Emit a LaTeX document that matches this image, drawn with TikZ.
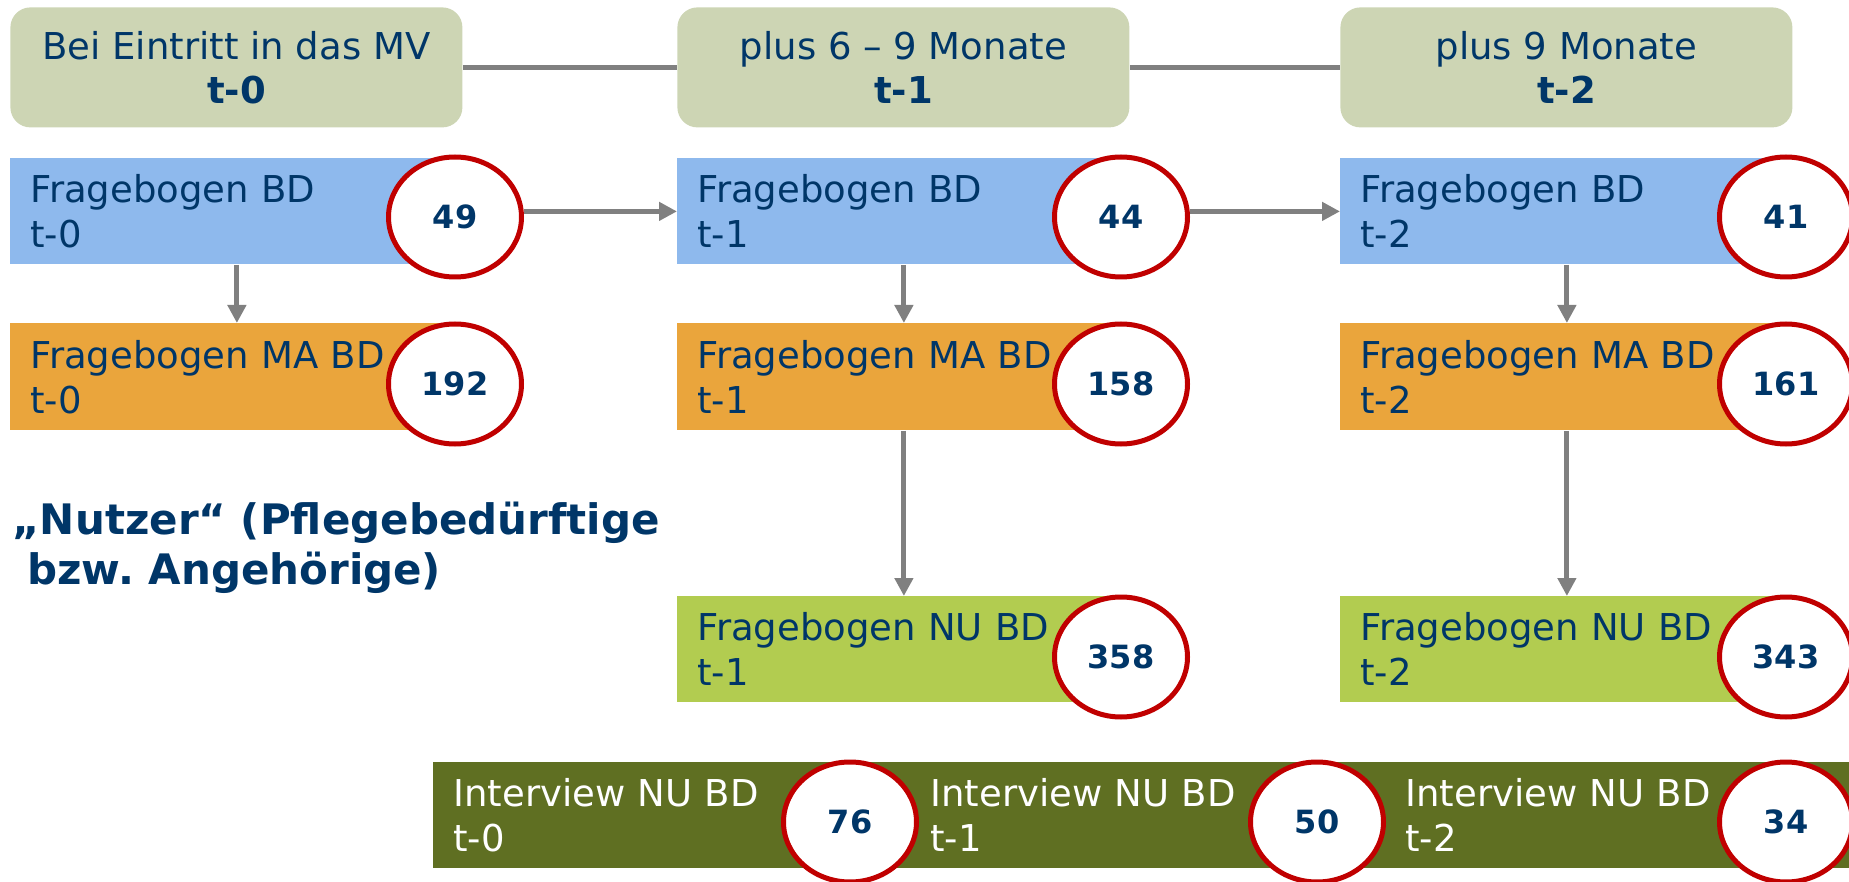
\documentclass[tikz,border=0pt]{standalone}
\usepackage{fontspec}
\setmainfont{DejaVu Sans}
\usetikzlibrary{arrows.meta,shapes.geometric,backgrounds}
\definecolor{navy}{RGB}{0,54,104}
\definecolor{hdrc}{RGB}{205,213,180}
\definecolor{bluec}{RGB}{142,185,237}
\definecolor{orangec}{RGB}{234,165,60}
\definecolor{greenc}{RGB}{178,204,80}
\definecolor{olivec}{RGB}{95,111,34}
\definecolor{redc}{RGB}{192,0,0}
\definecolor{grayc}{RGB}{128,128,128}
\frenchspacing
\begin{document}
\begin{tikzpicture}[x=0.5pt,y=-0.5pt,
  hdr/.style={fill=hdrc, rounded corners=10pt, minimum width=226pt, minimum height=60pt,
    anchor=north west, inner sep=0pt, align=center, text=navy,
    font=\fontsize{18.5}{22}\selectfont},
  boxbase/.style={anchor=north west, minimum height=53pt, inner xsep=10pt, inner ysep=0pt,
    align=left, text=navy, font=\fontsize{18.5}{22.5}\selectfont},
  colbox/.style={boxbase, text width=206.5pt},
  bluebox/.style={colbox, fill=bluec},
  orangebox/.style={colbox, fill=orangec},
  greenbox/.style={colbox, fill=greenc},
  intbox/.style={boxbase, fill=olivec, text=white},
  circ/.style={ellipse, draw=redc, line width=2.5pt, fill=white, minimum width=66.5pt,
    minimum height=60pt, inner sep=0pt, text=navy, font=\bfseries\fontsize{16}{19}\selectfont},
  conn/.style={draw=grayc, line width=2.5pt},
  arr/.style={conn, -{Triangle[length=9pt,width=9pt]}}
]
\useasboundingbox (0,0) rectangle (1849,882);

% headers
\node[hdr] (h1) at (10,7) {Bei Eintritt in das MV\\\textbf{t-0}};
\node[hdr] (h2) at (677,7) {plus 6 – 9 Monate\\\textbf{t-1}};
\node[hdr] (h3) at (1340,7) {plus 9 Monate\\\textbf{t-2}};

% blue row
\node[bluebox] (b1) at (10,158) {Fragebogen BD\\t-0};
\node[bluebox] (b2) at (677,158) {Fragebogen BD\\t-1};
\node[bluebox] (b3) at (1340,158) {Fragebogen BD\\t-2};

% orange row
\node[orangebox, minimum height=53.5pt] (o1) at (10,323) {Fragebogen MA BD\\t-0};
\node[orangebox, minimum height=53.5pt] (o2) at (677,323) {Fragebogen MA BD\\t-1};
\node[orangebox, minimum height=53.5pt] (o3) at (1340,323) {Fragebogen MA BD\\t-2};

% green row
\node[greenbox] (g2) at (677,596) {Fragebogen NU BD\\t-1};
\node[greenbox] (g3) at (1340,596) {Fragebogen NU BD\\t-2};

% interview row
\node[intbox, text width=218.5pt] (i1) at (433,762) {Interview NU BD\\t-0};
\node[intbox, text width=217.5pt] (i2) at (910,762) {Interview NU BD\\t-1};
\node[intbox, text width=212pt] (i3) at (1385,762) {Interview NU BD\\t-2};

% circles
\node[circ] (cb1) at (455,217) {49};
\node[circ] (cb2) at (1121,217) {44};
\node[circ] (cb3) at (1786,217) {41};
\node[circ] (co1) at (455,384) {192};
\node[circ] (co2) at (1121,384) {158};
\node[circ] (co3) at (1786,384) {161};
\node[circ] (cg2) at (1121,657) {358};
\node[circ] (cg3) at (1786,657) {343};
\node[circ] (ci1) at (850,822) {76};
\node[circ] (ci2) at (1317,822) {50};
\node[circ] (ci3) at (1786,822) {34};

% side label
\node[anchor=north west, inner sep=0pt, align=left, text=navy,
  font=\bfseries\fontsize{21}{25}\selectfont] (nutzer) at (12,502)
  {„Nutzer“ (Pflegebedürftige\\\hspace*{7.5pt}bzw. Angehörige)};

% connectors
\begin{scope}[on background layer]
\draw[conn] (h1) -- (h2);
\draw[conn] (h2) -- (h3);
\draw[arr] (cb1.east |- b2.west) -- (b2.west);
\draw[arr] (cb2.east |- b3.west) -- (b3.west);
\draw[arr] (b1.south) -- (o1.north);
\draw[arr] (b2.south) -- (o2.north);
\draw[arr] (b3.south) -- (o3.north);
\draw[arr] (o2.south) -- (g2.north);
\draw[arr] (o3.south) -- (g3.north);
\end{scope}
\end{tikzpicture}
\end{document}
